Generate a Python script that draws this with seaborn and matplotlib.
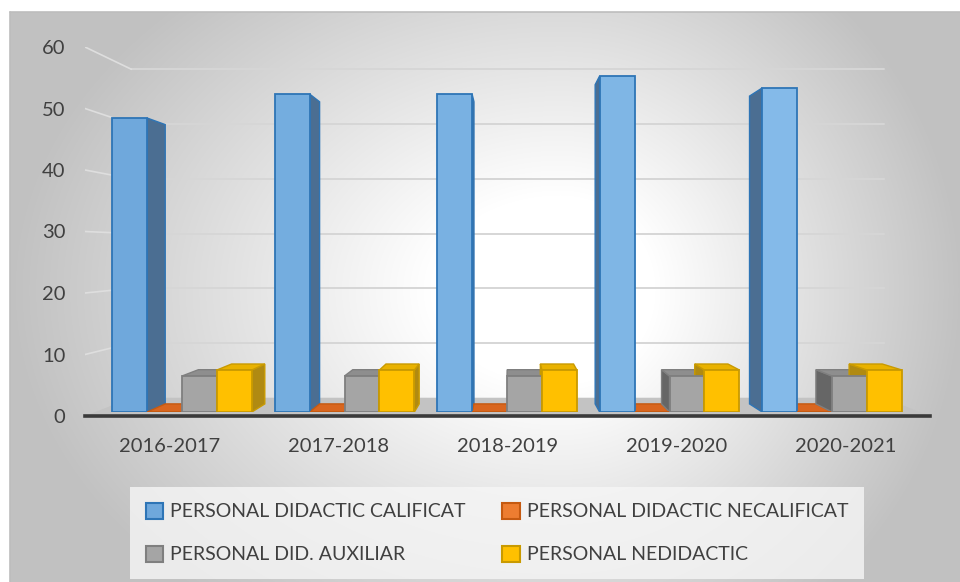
import numpy as np
import pandas as pd
import matplotlib
matplotlib.use("Agg")
import matplotlib.pyplot as plt
from matplotlib.patches import Polygon, Patch
from matplotlib.colors import to_rgb
import seaborn as sns

# ---- data ----
years = ["2016-2017", "2017-2018", "2018-2019", "2019-2020", "2020-2021"]
series = ["PERSONAL DIDACTIC CALIFICAT", "PERSONAL DIDACTIC NECALIFICAT",
          "PERSONAL DID. AUXILIAR", "PERSONAL NEDIDACTIC"]
calificat = [49, 53, 53, 56, 54]
necalificat = [0, 0, 0, 0, 0]
auxiliar = [6, 6, 6, 6, 6]
nedidactic = [7, 7, 7, 7, 7]
y_ticks = [0, 10, 20, 30, 40, 50, 60]

# ---- styling ----
face_colors = ["#6FA8DC", "#ED7D31", "#A5A5A5", "#FFC000"]
edge_colors = ["#2E75B6", "#C55A11", "#7F7F7F", "#C99A00"]
side_colors = ["#4B6E92", "#B9531A", "#666666", "#B08A12"]
top_colors = ["#86B9E6", "#D9661F", "#8E8E8E", "#E9B200"]
highlight = "#9DD0F8"
text_color = "#404040"

sns.set_theme(style="white")
plt.rcParams["font.family"] = ["Lato", "DejaVu Sans"]

df = pd.DataFrame({
    "An": years * 4,
    "Categorie": np.repeat(series, len(years)),
    "Valoare": calificat + necalificat + auxiliar + nedidactic,
})

W, H = 960, 582
fig = plt.figure(figsize=(W / 100, H / 100), dpi=100)

# ---- soft radial background of the chart area ----
bg = fig.add_axes([0, 0, 1, 1])
bg.set_axis_off()
xx, yy = np.meshgrid(np.arange(W), np.arange(H))
cx, cy = 560, 290
sx = np.where(xx > cx, 380.0, 520.0)
d = np.sqrt(((xx - cx) / sx) ** 2 + ((yy - cy) / 380.0) ** 2)
shade = 1 - 0.24 * np.clip((d - 0.25) / 0.8, 0, 1)
img = np.dstack([shade] * 3)
img[:12, :] = 1
img[:, :10] = 1
bg.imshow(img, extent=(0, W, H, 0), aspect="auto", interpolation="bilinear")
bg.plot([10, W], [12, 12], color="#bdbdbd", lw=1.2)
bg.plot([10, 10], [12, H], color="#bdbdbd", lw=1.2)
bg.set_xlim(0, W)
bg.set_ylim(H, 0)


def px_axes(left, right, y0, y60):
    """Axes whose x spans [left, right] px and whose y maps 0 -> y0 px, 60 -> y60 px."""
    return fig.add_axes([left / W, 1 - y0 / H, (right - left) / W, (y0 - y60) / H])


n = len(years)

# ---- frame axes: front plane with ticks, floor and walls ----
frame = px_axes(85, 930, 416, 47)
frame.patch.set_alpha(0)
frame.set_xlim(-0.5, n - 0.5)
frame.set_ylim(0, 60)
frame.set_xticks(range(n), years)
frame.set_yticks(y_ticks)

vp_frame = (2.0, 27.0)
k_wall = 0.11


def recede(pt, vp, k):
    x, y = pt
    return (x + k * (vp[0] - x), y + k * (vp[1] - y))


x_lo, x_hi = frame.get_xlim()
floor = Polygon([(x_lo, 0), (x_hi, 0),
                 recede((x_hi, 0), vp_frame, k_wall), recede((x_lo, 0), vp_frame, k_wall)],
                closed=True, facecolor="#c3c3c3", edgecolor="none", zorder=1)
frame.add_patch(floor)

for t in y_ticks[1:]:
    bx0, by = recede((x_lo, t), vp_frame, k_wall)
    bx1, _ = recede((x_hi, t), vp_frame, k_wall)
    frame.plot([bx0, bx1], [by, by], color="#d6d6d6", lw=1.4, zorder=0.5)
    frame.plot([x_lo, bx0], [t, by], color="#dedede", lw=1.2, zorder=0.5)

for s in ["top", "right", "left"]:
    frame.spines[s].set_visible(False)
frame.spines["bottom"].set_color("#3a3a3a")
frame.spines["bottom"].set_linewidth(2.6)
frame.grid(False)
frame.tick_params(axis="y", length=0, pad=14, labelsize=14.5, labelcolor=text_color)
frame.tick_params(axis="x", length=0, pad=16, labelsize=14.5, labelcolor=text_color)

# ---- bar axes: the columns sit a little deeper than the front plane ----
ax = px_axes(100.75, 913.25, 412, 52)
ax.patch.set_alpha(0)
sns.barplot(data=df, x="An", y="Valoare", hue="Categorie", hue_order=series,
            palette=face_colors, width=0.86, saturation=1, legend=False,
            ax=ax, zorder=4)
ax.set_xlim(-0.5, n - 0.5)
ax.set_ylim(0, 60)
ax.set_axis_off()

vp = (2.02, 27.0)
k_bar = 0.05

for i, cont in enumerate(ax.containers):
    for bar in cont:
        x0 = bar.get_x()
        x1 = x0 + bar.get_width()
        h = bar.get_height()
        if i == 0:
            # columns catch more light towards the right
            f = np.clip((x0 + 0.5) / n, 0, 1) * 0.55
            base = np.array(to_rgb(face_colors[0]))
            bar.set_facecolor(tuple(base * (1 - f) + np.array(to_rgb(highlight)) * f))
        bar.set_edgecolor(edge_colors[i])
        bar.set_linewidth(1.3)
        bar.set_zorder(4)
        xs = None
        if x1 < vp[0]:
            xs = x1
        elif x0 > vp[0]:
            xs = x0
        if xs is not None and h > 0:
            side = Polygon([(xs, 0), (xs, h), recede((xs, h), vp, k_bar), recede((xs, 0), vp, k_bar)],
                           closed=True, facecolor=side_colors[i],
                           edgecolor=edge_colors[i], lw=1.0, zorder=3)
            ax.add_patch(side)
        if h < vp[1]:
            top = Polygon([(x0, h), (x1, h), recede((x1, h), vp, k_bar), recede((x0, h), vp, k_bar)],
                          closed=True, facecolor=top_colors[i],
                          edgecolor=edge_colors[i], lw=1.0, zorder=3)
            ax.add_patch(top)

# ---- legend ----
order = [0, 2, 1, 3]
handles = [Patch(facecolor=face_colors[j], edgecolor=edge_colors[j], lw=1.5) for j in order]
labels = [series[j] for j in order]
leg = fig.legend(handles, labels, ncol=2, loc="upper left",
                 bbox_to_anchor=(130 / W, 1 - 487 / H), frameon=True,
                 fontsize=14, handlelength=0.9, handleheight=0.9, handletextpad=0.35,
                 columnspacing=1.9, labelspacing=1.3, borderpad=0.8, borderaxespad=0)
leg.get_frame().set_facecolor("#f6f6f6")
leg.get_frame().set_edgecolor("none")
leg.get_frame().set_alpha(0.8)
leg.get_frame().set_boxstyle("square", pad=0)
for t in leg.get_texts():
    t.set_color(text_color)

fig.savefig("out.png", dpi=100)
